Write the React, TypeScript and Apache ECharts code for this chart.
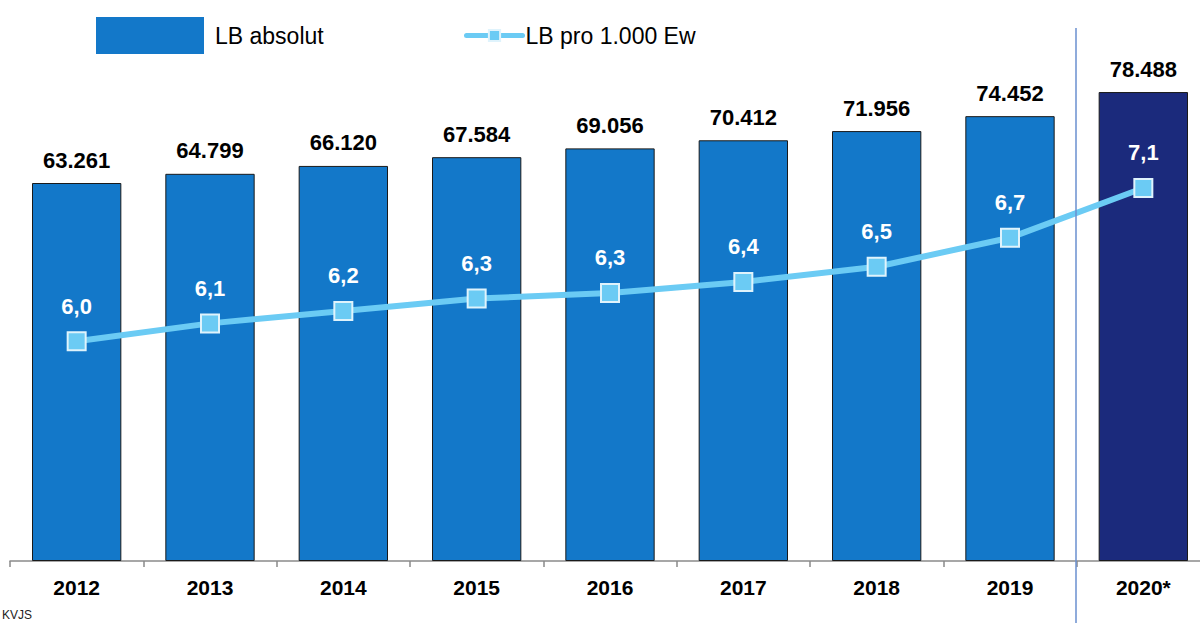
import React, { useEffect, useRef } from "react";
import * as echarts from "echarts";

const years = ["2012", "2013", "2014", "2015", "2016", "2017", "2018", "2019", "2020*"];
const lbAbsolut = [63261, 64799, 66120, 67584, 69056, 70412, 71956, 74452, 78488];
const lbPro1000 = [5.99, 6.12, 6.21, 6.3, 6.34, 6.42, 6.53, 6.74, 7.1];
const seriesNames = ["LB absolut", "LB pro 1.000 Ew"];
const sourceText = "KVJS";

const FONT = "'Liberation Sans', Arial, sans-serif";
const BAR_COLOR = "#1378c9";
const BAR_HIGHLIGHT = "#1b2a7c";
const LINE_COLOR = "#6bcbf4";

const fmtThousands = (v: number) =>
  String(Math.round(v)).replace(/\B(?=(\d{3})+(?!\d))/g, ".");
const fmtDecimal = (v: number) => v.toFixed(1).replace(".", ",");

export default function App() {
  const ref = useRef<HTMLDivElement>(null);

  useEffect(() => {
    if (!ref.current) return;
    const chart = echarts.init(ref.current, undefined, { renderer: "svg" });
    const last = lbAbsolut.length - 1;

    chart.setOption({
      animation: false,
      textStyle: { fontFamily: FONT },
      legend: [
        {
          data: [{ name: seriesNames[0], icon: "rect" }],
          left: 96,
          top: 17,
          padding: 0,
          itemWidth: 108,
          itemHeight: 37,
          itemStyle: { borderWidth: 0, color: BAR_COLOR },
          textStyle: { fontSize: 23, color: "#000", fontFamily: FONT, padding: [0, 0, 0, 6] },
          selectedMode: false,
        },
        {
          data: [seriesNames[1]],
          left: 464,
          top: 24,
          padding: 0,
          itemWidth: 56,
          itemHeight: 14,
          lineStyle: { width: 5, cap: "round" },
          textStyle: { fontSize: 23, color: "#000", fontFamily: FONT, padding: [0, 0, 0, -2] },
          selectedMode: false,
        },
      ],
      grid: { left: 10, right: 0, top: 83, bottom: 62, containLabel: false },
      xAxis: {
        type: "category",
        data: years,
        boundaryGap: true,
        axisLine: { show: true, lineStyle: { color: "#8a8a8a", width: 1.5 } },
        axisTick: { show: true, length: 6, lineStyle: { color: "#8a8a8a", width: 1.5 } },
        axisLabel: {
          fontSize: 21,
          fontWeight: "bold",
          color: "#000",
          fontFamily: FONT,
          margin: 16,
        },
      },
      yAxis: [
        { type: "value", min: 0, max: 80000, show: false, splitLine: { show: false } },
        { type: "value", min: 4.4, max: 7.86, show: false, splitLine: { show: false } },
      ],
      series: [
        {
          name: seriesNames[0],
          type: "bar",
          barCategoryGap: "33%",
          data: lbAbsolut.map((v, i) => ({
            value: v,
            itemStyle: { color: i === last ? BAR_HIGHLIGHT : BAR_COLOR },
          })),
          itemStyle: { color: BAR_COLOR, borderColor: "#1a1a1a", borderWidth: 1 },
          label: {
            show: true,
            position: "top",
            distance: 12,
            fontSize: 22,
            fontWeight: "bold",
            color: "#000",
            fontFamily: FONT,
            formatter: (p: any) => fmtThousands(p.value),
          },
          z: 2,
        },
        {
          name: seriesNames[1],
          type: "line",
          yAxisIndex: 1,
          data: lbPro1000,
          symbol: "rect",
          symbolSize: 18,
          lineStyle: { color: LINE_COLOR, width: 6 },
          itemStyle: { color: LINE_COLOR, borderColor: "#dff3fc", borderWidth: 2 },
          label: {
            show: true,
            position: "top",
            distance: 14,
            fontSize: 22,
            fontWeight: "bold",
            color: "#fff",
            fontFamily: FONT,
            formatter: (p: any) => fmtDecimal(p.value),
          },
          z: 5,
        },
      ],
      graphic: [
        {
          type: "line",
          shape: { x1: 1076, y1: 28, x2: 1076, y2: 623 },
          style: { stroke: "#6a8fcf", lineWidth: 1.5 },
          z: 10,
        },
        {
          type: "text",
          left: 2,
          top: 609,
          style: { text: sourceText, fontSize: 12, fill: "#222", fontFamily: FONT },
        },
      ],
    });

    return () => chart.dispose();
  }, []);

  return (
    <div
      style={{
        position: "absolute",
        left: 0,
        top: 0,
        width: 1200,
        height: 623,
        overflow: "hidden",
        background: "#fff",
      }}
    >
      <div ref={ref} style={{ width: 1210, height: 623 }} />
    </div>
  );
}
